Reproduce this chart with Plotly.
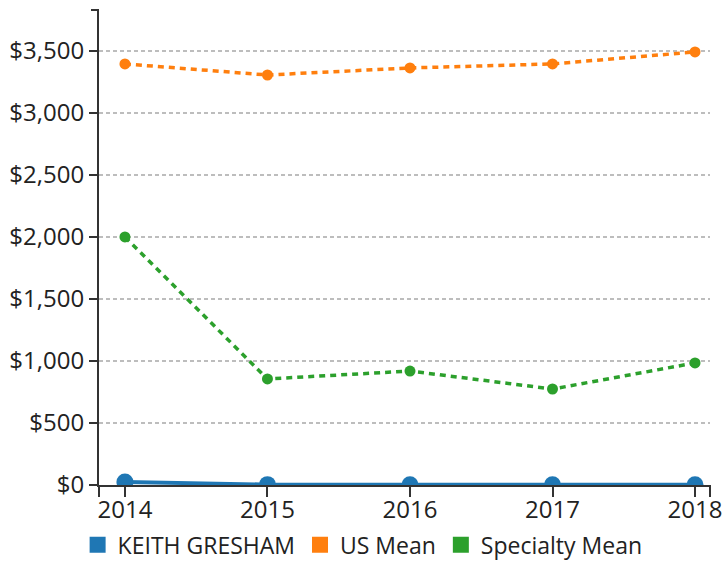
import plotly.graph_objects as go

years = [2014, 2015, 2016, 2017, 2018]
keith = [25, 3, 2, 2, 2]
us_mean = [3395, 3306, 3363, 3395, 3492]
specialty_mean = [2000, 855, 919, 774, 984]
y_ticks = [0, 500, 1000, 1500, 2000, 2500, 3000, 3500]
y_tick_labels = ["$0", "$500", "$1,000", "$1,500", "$2,000", "$2,500", "$3,000", "$3,500"]

BLUE, ORANGE, GREEN = "#1f77b4", "#ff7f0e", "#2ca02c"
FONT = "Open Sans"
FS = 24

fig = go.Figure()
fig.add_trace(go.Scatter(x=years, y=us_mean, mode="lines+markers", showlegend=False,
                         line=dict(color=ORANGE, width=3.5, dash="6px,5px"),
                         marker=dict(color=ORANGE, size=11)))
fig.add_trace(go.Scatter(x=years, y=specialty_mean, mode="lines+markers", showlegend=False,
                         line=dict(color=GREEN, width=3.5, dash="6px,5px"),
                         marker=dict(color=GREEN, size=11)))
fig.add_trace(go.Scatter(x=years, y=keith, mode="lines+markers", showlegend=False,
                         cliponaxis=True,
                         line=dict(color=BLUE, width=4),
                         marker=dict(color=BLUE, size=17)))

for name, c in [("KEITH GRESHAM", BLUE), ("US Mean", ORANGE), ("Specialty Mean", GREEN)]:
    fig.add_trace(go.Scatter(x=[None], y=[None], mode="markers", name=name,
                             marker=dict(color=c, symbol="square", size=17)))

W, H = 611, 475
shapes = [
    dict(type="line", xref="paper", yref="paper", x0=0, x1=-8 / W, y0=1, y1=1,
         line=dict(color="#333", width=2)),
    dict(type="line", xref="paper", yref="paper", x0=0, x1=0, y0=0, y1=-12 / H,
         line=dict(color="#333", width=2)),
    dict(type="line", xref="paper", yref="paper", x0=1, x1=1, y0=0, y1=-12 / H,
         line=dict(color="#333", width=2)),
]

fig.update_layout(
    width=724, height=564,
    margin=dict(l=99, r=14, t=10, b=79, autoexpand=False),
    paper_bgcolor="white", plot_bgcolor="white",
    font=dict(family=FONT, size=FS, color="#222"),
    shapes=shapes,
    showlegend=True,
    legend=dict(orientation="h", x=-0.035, xanchor="left", y=-0.126, yanchor="middle",
                font=dict(family=FONT, size=23, color="#222"),
                itemwidth=30, tracegroupgap=0, bgcolor="rgba(0,0,0,0)"),
    xaxis=dict(range=[2013.818, 2018.105], tickvals=years, ticktext=[str(y) for y in years],
               showgrid=False, zeroline=False, showline=True, linecolor="#333", linewidth=2,
               ticks="outside", ticklen=10, tickwidth=2, tickcolor="#333",
               ticklabelstandoff=-8,
               tickfont=dict(family=FONT, size=FS, color="#222")),
    yaxis=dict(range=[0, 3830], tickvals=y_ticks, ticktext=y_tick_labels,
               showgrid=True, gridcolor="#bdbdbd", gridwidth=2, griddash="4px,3px",
               zeroline=False, showline=True, linecolor="#333", linewidth=2,
               ticks="outside", ticklen=8, tickwidth=2, tickcolor="#333",
               tickfont=dict(family=FONT, size=FS, color="#222")),
)

fig.write_html("out.html", config={"displayModeBar": False},
               post_script="document.body.style.margin='0';document.body.style.overflow='hidden';")
